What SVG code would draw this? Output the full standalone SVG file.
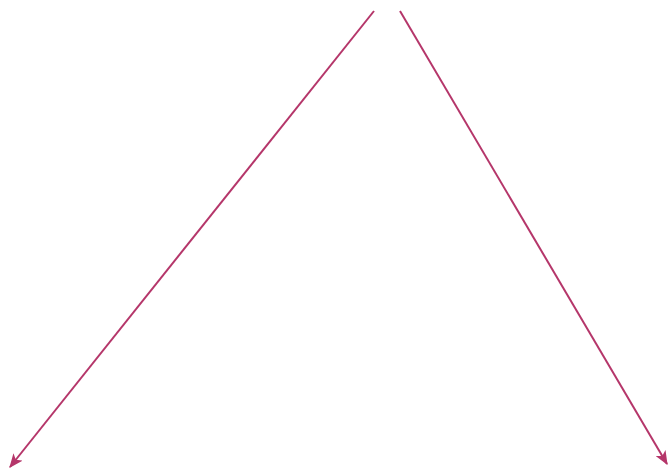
<svg xmlns="http://www.w3.org/2000/svg" width="668" height="469" viewBox="0 0 668 469">
<style>
.edge{fill:none;stroke:#b5366a;stroke-width:2}
</style>
<defs>
<marker id="arr" viewBox="0 0 12 10" refX="11" refY="5" markerWidth="7" markerHeight="6" markerUnits="strokeWidth" orient="auto">
<path d="M0,0 L12,5 L0,10 L3,5 Z" fill="#b5366a"/>
</marker>
</defs>
<rect width="668" height="469" fill="#ffffff"/>
<g id="connectors">
<line class="edge" x1="374" y1="11" x2="10" y2="467" marker-end="url(#arr)"/>
<line class="edge" x1="400" y1="11" x2="667" y2="464" marker-end="url(#arr)"/>
</g>
</svg>
